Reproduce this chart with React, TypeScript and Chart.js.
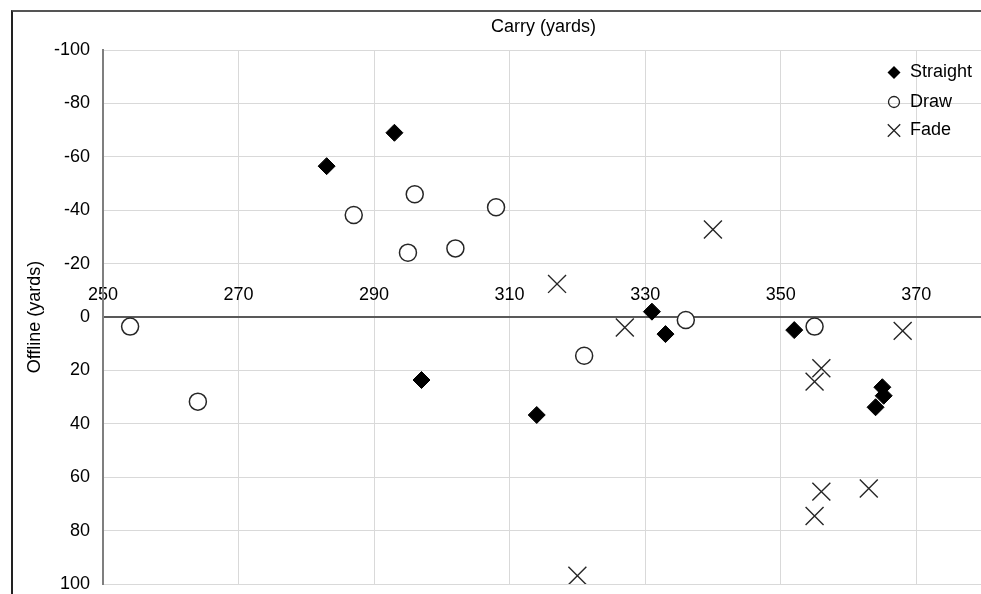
import React, { useEffect, useRef } from 'react';
import { Chart, registerables } from 'chart.js';

Chart.register(...registerables);

// ---- data ----
const seriesNames = ['Straight', 'Draw', 'Fade'];

const straightCarry = [283, 293, 297, 314, 331, 333, 352, 365, 365.2, 364];
const straightOffline = [-56.5, -69, 23.6, 36.7, -2, 6.4, 4.9, 26.3, 29.5, 33.8];

const drawCarry = [254, 264, 287, 296, 295, 302, 308, 321, 336, 355];
const drawOffline = [3.6, 31.7, -38.2, -46, -24.1, -25.7, -41.1, 14.5, 1.1, 3.6];

const fadeCarry = [317, 327, 340, 368, 356, 355, 356, 355, 363, 320];
const fadeOffline = [-12.4, 3.9, -32.8, 5.2, 19.2, 24.2, 65.4, 74.5, 64.2, 96.9];

const xTicks = [250, 270, 290, 310, 330, 350, 370];
const yTicks = [-100, -80, -60, -40, -20, 0, 20, 40, 60, 80, 100];

const xTitle = 'Carry (yards)';
const yTitle = 'Offline (yards)';

const toPoints = (xs: number[], ys: number[]) => xs.map((x, i) => ({ x, y: ys[i] }));

const FONT_FAMILY = '"Liberation Sans", Arial, sans-serif';

const legendPlugin = {
  id: 'insideLegend',
  afterDraw(chart: any) {
    const { ctx, chartArea } = chart;
    const mx = chartArea.right - 90;
    const tx = chartArea.right - 74;
    const rows = [chartArea.top + 22.5, chartArea.top + 52, chartArea.top + 80.5];
    ctx.save();
    ctx.font = `18px ${FONT_FAMILY}`;
    ctx.textBaseline = 'middle';
    ctx.textAlign = 'left';
    seriesNames.forEach((name, i) => {
      const y = rows[i];
      ctx.beginPath();
      if (i === 0) {
        const r = 6.5;
        ctx.moveTo(mx - r, y);
        ctx.lineTo(mx, y - r);
        ctx.lineTo(mx + r, y);
        ctx.lineTo(mx, y + r);
        ctx.closePath();
        ctx.fillStyle = '#000';
        ctx.fill();
      } else if (i === 1) {
        ctx.arc(mx, y, 5.5, 0, Math.PI * 2);
        ctx.strokeStyle = '#222';
        ctx.lineWidth = 1.3;
        ctx.stroke();
      } else {
        const h = 6.2;
        ctx.moveTo(mx - h, y - h);
        ctx.lineTo(mx + h, y + h);
        ctx.moveTo(mx + h, y - h);
        ctx.lineTo(mx - h, y + h);
        ctx.strokeStyle = '#222';
        ctx.lineWidth = 1.3;
        ctx.stroke();
      }
      ctx.fillStyle = '#000';
      ctx.fillText(name, tx, y);
    });
    ctx.restore();
  },
};

export default function App() {
  const ref = useRef<HTMLCanvasElement>(null);

  useEffect(() => {
    const canvas = ref.current!;
    const font = { family: FONT_FAMILY, size: 18 };
    const chart = new Chart(canvas, {
      type: 'scatter',
      data: {
        datasets: [
          {
            label: seriesNames[0],
            data: toPoints(straightCarry, straightOffline),
            pointStyle: 'rectRot',
            pointRadius: 8.5,
            backgroundColor: '#000',
            borderColor: '#000',
            borderWidth: 1,
          },
          {
            label: seriesNames[1],
            data: toPoints(drawCarry, drawOffline),
            pointStyle: 'circle',
            pointRadius: 8.5,
            backgroundColor: '#fff',
            borderColor: '#262626',
            borderWidth: 1.5,
          },
          {
            label: seriesNames[2],
            data: toPoints(fadeCarry, fadeOffline),
            pointStyle: 'crossRot',
            pointRadius: 12.7,
            backgroundColor: 'rgba(0,0,0,0)',
            borderColor: '#262626',
            borderWidth: 1.4,
          },
        ],
      },
      options: {
        animation: false,
        responsive: false,
        devicePixelRatio: 1,
        events: [],
        layout: { padding: { left: 12, top: 12, right: 16, bottom: 24 } },
        plugins: {
          legend: { display: false },
          tooltip: { enabled: false },
          title: {
            display: true,
            text: xTitle,
            fullSize: false,
            color: '#000',
            font: { ...font, weight: 'normal' },
            padding: { top: 4.2, bottom: 12.2 },
          },
        },
        scales: {
          x: {
            type: 'linear',
            min: 250,
            max: 380,
            position: { y: 0 } as any,
            afterBuildTicks: (s: any) => {
              s.ticks = xTicks.map((v) => ({ value: v }));
            },
            grid: { color: '#d9d9d9', lineWidth: 1, drawTicks: false },
            border: { color: '#595959', width: 2 },
            ticks: {
              padding: -32.3,
              font,
              color: '#000',
              autoSkip: false,
              maxRotation: 0,
              callback: (v: any) => String(v),
            },
          },
          y: {
            type: 'linear',
            min: -100,
            max: 100,
            reverse: true,
            afterBuildTicks: (s: any) => {
              s.ticks = yTicks.map((v) => ({ value: v }));
            },
            afterFit: (s: any) => {
              s.width = 91;
            },
            grid: { color: '#d9d9d9', lineWidth: 1, drawTicks: false },
            border: { color: '#7f7f7f', width: 2 },
            ticks: {
              padding: 13,
              font,
              color: '#000',
              autoSkip: false,
              callback: (v: any) => String(v),
            },
            title: {
              display: true,
              text: yTitle,
              color: '#000',
              font,
              padding: { top: 12.2, bottom: 0 },
            },
          },
        },
      },
      plugins: [legendPlugin],
    } as any);
    return () => chart.destroy();
  }, []);

  return (
    <div
      style={{
        position: 'fixed',
        left: 0,
        top: 0,
        width: 981,
        height: 594,
        overflow: 'hidden',
        background: '#fff',
      }}
    >
      <div
        style={{
          position: 'absolute',
          left: 11,
          top: 10,
          width: 1100,
          height: 700,
          borderLeft: '2px solid #222',
          borderTop: '2px solid #555',
        }}
      />
      <canvas
        ref={ref}
        width={1000}
        height={608}
        style={{ position: 'absolute', left: 0, top: 0, display: 'block' }}
      />
    </div>
  );
}
